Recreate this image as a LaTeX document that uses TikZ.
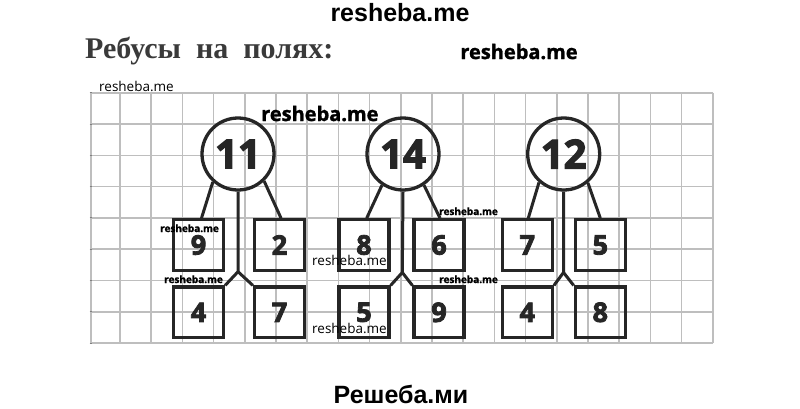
\documentclass[tikz,border=0pt]{standalone}
\usepackage{fontspec}
\setmainfont{Liberation Serif}
\newfontfamily\arialf{Liberation Sans}
\newfontfamily\opensans{Open Sans}
\newfontfamily\osfat{Open Sans}[BoldFeatures={FakeBold=3}]
\newfontfamily\osmid{Open Sans}[BoldFeatures={FakeBold=1.5}]
\usetikzlibrary{calc}
\definecolor{ink}{HTML}{262626}
\definecolor{gridc}{HTML}{BEBEBE}
\definecolor{titlec}{HTML}{3A3A3A}
\begin{document}
\begin{tikzpicture}[x=1pt,y=-1pt,
  cnum/.style={circle, draw=ink, line width=3.3pt, minimum size=72pt, inner sep=0pt,
    text=ink, font=\osfat\bfseries\fontsize{40}{40}\selectfont},
  bnum/.style={rectangle, draw=ink, line width=3.3pt, minimum width=50pt, minimum height=50.5pt,
    inner sep=0pt, text=ink, font=\osfat\bfseries\fontsize{27}{27}\selectfont},
  link/.style={draw=ink, line width=3pt},
  gline/.style={draw=gridc, line width=1.6pt},
  wmbig/.style={font=\arialf\bfseries\fontsize{25}{25}\selectfont, inner sep=0pt},
  wmos/.style={font=\osmid\bfseries\fontsize{20}{20}\selectfont, inner sep=0pt},
  wmsb/.style={font=\osmid\bfseries\fontsize{10}{10}\selectfont, inner sep=0pt, anchor=base west},
  wmsr/.style={font=\opensans\fontsize{13.5}{13.5}\selectfont, inner sep=0pt, anchor=base west},
]
\fill[white] (0,0) rectangle (800,408);
\useasboundingbox (0,0) rectangle (800,408);
% grid
\foreach \k in {0,...,19} \draw[gline] (120+31.2*\k,92.7) -- (120+31.2*\k,343);
\draw[gline] (91,92.7) -- (91,343);
\foreach \j in {0,...,8} {
  \draw[gline] (91,92.7+31.3*\j) -- (713.3,92.7+31.3*\j);
  \draw[draw=gray, line width=1pt] (89.5,92.7+31.3*\j) -- (91.5,92.7+31.3*\j);
}
% set 1
\node[cnum] (c1) at (238,154) {11};
\node[bnum] (a1) at (198.5,245) {9};
\node[bnum] (a2) at (279.5,245) {2};
\node[bnum] (a3) at (198.5,312.3) {4};
\node[bnum] (a4) at (279.5,312.3) {7};
\coordinate (f1) at (238,271.7);
\draw[link] (c1.228) -- ($(a1.north)+(3,0)$);
\draw[link] (c1.314) -- ($(a2.north)+(1.5,0)$);
\draw[link] (c1.south) -- (f1) -- (a3.north east);
\draw[link] (f1) -- (a4.north west);
% set 2
\node[cnum] (c2) at (403,154) {14};
\node[bnum] (b1) at (364,245) {8};
\node[bnum] (b2) at (439,245) {6};
\node[bnum] (b3) at (364,312.3) {5};
\node[bnum] (b4) at (439,312.3) {9};
\coordinate (f2) at (402.3,272.5);
\draw[link] (c2.236) -- ($(b1.north)+(2.7,0)$);
\draw[link] (c2.304) -- ($(b2.north)+(1,0)$);
\draw[link] (c2.south) -- (f2) -- (b3.north east);
\draw[link] (f2) -- (b4.north west);
% set 3
\node[cnum] (c3) at (563.7,154) {12};
\node[bnum] (d1) at (527.3,245) {7};
\node[bnum] (d2) at (600.3,245) {5};
\node[bnum] (d3) at (527.3,312.3) {4};
\node[bnum] (d4) at (600.3,312.3) {8};
\coordinate (f3) at (563.5,272.5);
\draw[link] (c3.229) -- ($(d1.north)+(1,0)$);
\draw[link] (c3.310) -- (d2.north);
\draw[link] (c3.south) -- (f3) -- (d3.north east);
\draw[link] (f3) -- (d4.north west);
% texts
\node[wmbig, anchor=base] (w0) at (400,21) {resheba.me};
\node[anchor=base west, inner sep=0pt, text=titlec,
  font=\bfseries\fontsize{30}{30}\selectfont] (ttl) at (85,58) {Ребусы\ \ на\ \ полях:};
\node[wmos, anchor=base] (w1) at (519,59) {resheba.me};
\node[wmsr] (w2) at (99,91) {resheba.me};
\node[wmos, anchor=base west] (w3) at (261,121) {resheba.me};
\node[wmsb] (w4) at (160,232) {resheba.me};
\node[wmsb] (w5) at (164,283) {resheba.me};
\node[wmsb] (w6) at (439,215) {resheba.me};
\node[wmsb] (w7) at (439,283) {resheba.me};
\node[wmsr] (w8) at (312,265) {resheba.me};
\node[wmsr] (w9) at (312,333) {resheba.me};
\node[wmbig, anchor=base] (w10) at (401,403) {Решеба.ми};
\end{tikzpicture}
\end{document}
